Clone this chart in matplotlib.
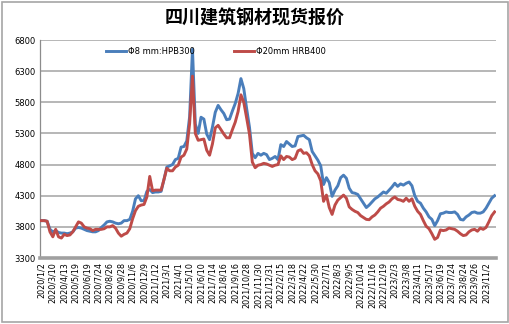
import matplotlib
matplotlib.use("Agg")
import matplotlib.pyplot as plt
from matplotlib.patches import Rectangle

plt.rcParams['font.family'] = ['DejaVu Sans', 'Noto Sans CJK SC']

# x tick labels (one every 4 points)
tick_labels = ['2020/1/2', '2020/3/10', '2020/4/13', '2020/5/19', '2020/6/19', '2020/7/24',
               '2020/8/26', '2020/9/28', '2020/11/6', '2020/12/9', '2021/1/12', '2021/3/1',
               '2021/4/1', '2021/5/10', '2021/6/10', '2021/7/14', '2021/8/16', '2021/9/16',
               '2021/10/28', '2021/11/30', '2021/12/31', '2022/2/15', '2022/3/18', '2022/4/22',
               '2022/5/30', '2022/7/1', '2022/8/3', '2022/9/5', '2022/10/14', '2022/11/16',
               '2022/12/19', '2023/2/3', '2023/3/8', '2023/4/11', '2023/5/17', '2023/6/19',
               '2023/7/24', '2023/8/24', '2023/9/26', '2023/11/2']

# Φ8mm HPB300
hpb300 = [3900, 3900, 3890, 3760, 3720, 3740, 3710, 3700, 3700, 3690,
          3700, 3720, 3780, 3790, 3780, 3760, 3740, 3730, 3720, 3720,
          3740, 3790, 3830, 3880, 3890, 3880, 3860, 3850, 3860, 3900,
          3900, 3920, 4050, 4250, 4300, 4220, 4220, 4370, 4400, 4350,
          4360, 4360, 4370, 4560, 4760, 4780, 4800, 4880, 4900, 5080,
          5090, 5180, 5570, 6650, 5450, 5300, 5560, 5530, 5290, 5200,
          5400, 5640, 5750, 5680, 5620, 5520, 5530, 5660, 5780, 5940,
          6180, 6020, 5700, 5400, 4980, 4910, 4980, 4950, 4980, 4960,
          4880, 4900, 4930, 4880, 5120, 5090, 5170, 5130, 5090, 5100,
          5250, 5260, 5270, 5230, 5200, 5010, 4940, 4870, 4780, 4480,
          4590, 4510, 4290, 4390, 4460, 4590, 4630, 4580, 4420, 4350,
          4340, 4320, 4250, 4180, 4110, 4150, 4200, 4250, 4280, 4320,
          4360, 4340, 4390, 4440, 4500, 4450, 4490, 4470, 4500, 4520,
          4460, 4300, 4210, 4180, 4100, 4040, 3960, 3920, 3820, 3900,
          4010, 4020, 4040, 4030, 4030, 4040, 4000, 3920, 3910, 3960,
          3990, 4030, 4040, 4020, 4020, 4040, 4100, 4180, 4260, 4300]

# Φ20mm HRB400
hrb400 = [3900, 3900, 3890, 3720, 3640, 3760, 3640, 3620, 3680, 3660,
          3670, 3720, 3800, 3880, 3860, 3800, 3780, 3770, 3740, 3760,
          3760, 3760, 3770, 3800, 3800, 3820, 3780, 3700, 3650, 3680,
          3700, 3770, 3930, 4060, 4130, 4150, 4160, 4280, 4610, 4380,
          4390, 4390, 4390, 4560, 4740, 4700, 4700, 4760, 4790, 4920,
          4950, 5050, 5460, 6220, 5300, 5190, 5200, 5210, 5030, 4950,
          5130, 5390, 5430, 5360, 5290, 5230, 5230, 5360, 5480, 5650,
          5920, 5800, 5550, 5290, 4840, 4750, 4790, 4800, 4820, 4810,
          4790, 4770, 4790, 4800, 4940, 4880, 4930, 4920, 4880, 4900,
          5020, 5040, 4980, 4990, 4940, 4800, 4700, 4650, 4540, 4210,
          4310, 4110, 4000, 4150, 4230, 4270, 4310, 4260, 4120, 4080,
          4050, 4030, 3980, 3950, 3920, 3915, 3960, 3990, 4040, 4100,
          4130, 4170, 4200, 4250, 4280, 4240, 4230, 4210, 4260, 4210,
          4250, 4130, 4050, 4000, 3900, 3810, 3770, 3690, 3600, 3630,
          3750, 3740, 3750, 3780, 3770, 3760, 3730, 3690, 3660, 3670,
          3720, 3750, 3760, 3730, 3780, 3760, 3790, 3880, 3980, 4040]

y_ticks = [3300, 3800, 4300, 4800, 5300, 5800, 6300, 6800]

fig = plt.figure(figsize=(5.1, 3.24), dpi=100)
fig.patch.set_facecolor('white')
# outer border of the chart
fig.patches.append(Rectangle((0.003, 0.005), 0.994, 0.99, transform=fig.transFigure,
                             fill=False, edgecolor='#a6a6a6', linewidth=1.2))

ax = fig.add_axes([40 / 510, 66 / 324, 456 / 510, 218 / 324])

x = list(range(len(hpb300)))
ax.plot(x, hpb300, color='#4a7ebb', linewidth=2.1, label='Φ8 mm:HPB300', zorder=3)
ax.plot(x, hrb400, color='#be4b48', linewidth=2.1, label='Φ20mm HRB400', zorder=3)

ax.set_xlim(-0.5, len(hpb300) - 0.5)
ax.set_ylim(3300, 6800)
ax.set_yticks(y_ticks)
ax.set_yticklabels([str(v) for v in y_ticks], fontsize=6)
ax.set_xticks(list(range(0, 4 * len(tick_labels), 4)))
ax.set_xticklabels(tick_labels, rotation=90, fontsize=5.8)
ax.tick_params(axis='both', length=0, pad=3)

ax.grid(axis='y', color='#aaaaaa', linewidth=1.2)
ax.set_axisbelow(True)
for pos in ['right', 'top']:
    ax.spines[pos].set_visible(False)
ax.spines['left'].set_color('#8c8c8c')
ax.spines['left'].set_linewidth(0.9)
ax.spines['bottom'].set_color('#a0a0a0')
ax.spines['bottom'].set_linewidth(2.6)

ax.legend(loc='center', bbox_to_anchor=(0.386, 0.947), ncol=2, frameon=False,
          fontsize=6, handlelength=2.4, columnspacing=4.6, handletextpad=0.3)

fig.text(0.5, 0.945, '四川建筑钢材现货报价', ha='center', va='center', fontsize=13,
         fontweight='bold', family=['Noto Sans CJK SC', 'DejaVu Sans'])

plt.savefig('out.png', dpi=100)
